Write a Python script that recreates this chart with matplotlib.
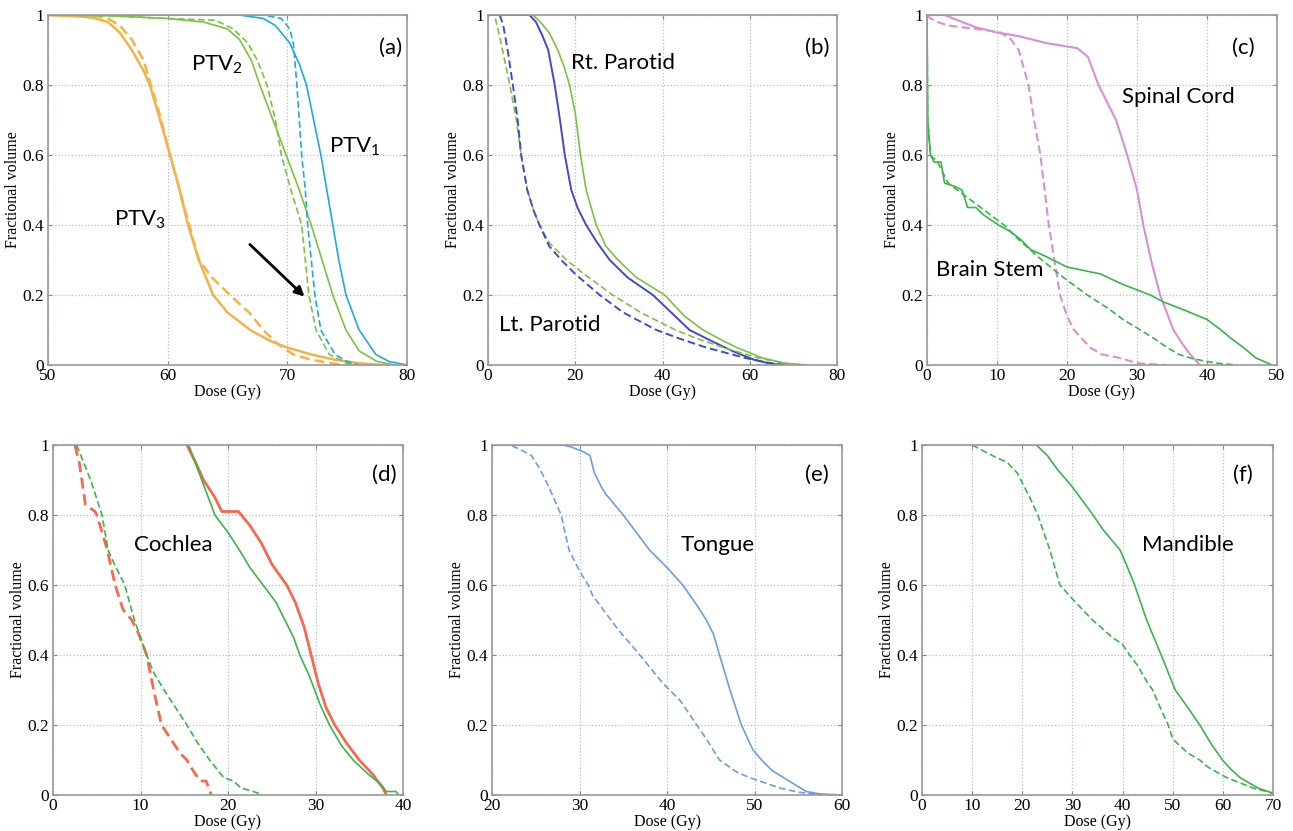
import matplotlib
matplotlib.use('Agg')
import matplotlib.pyplot as plt
from matplotlib.ticker import FuncFormatter

plt.rcParams['font.family'] = ['Liberation Serif', 'DejaVu Serif']
plt.rcParams['mathtext.default'] = 'regular'
LABEL_FONT = ['Lato', 'DejaVu Sans']

# ---- (a) PTVs ----
ptv3_x = [50, 53, 54, 55, 56, 57, 58, 58.5, 59.2, 60.2, 61, 61.7, 62.6, 63.8, 65, 66.9, 68.5, 70, 72, 74, 76, 78]
ptv3_y = [1, 0.995, 0.99, 0.98, 0.95, 0.9, 0.84, 0.8, 0.72, 0.6, 0.5, 0.4, 0.3, 0.2, 0.15, 0.1, 0.07, 0.05, 0.03, 0.015, 0.005, 0]
ptv3d_x = [50, 54, 55, 56, 57, 58, 58.6, 59.3, 60.2, 61, 61.8, 62.6, 63.7, 65.2, 66.8, 68, 69.2, 70.5, 72, 74, 75]
ptv3d_y = [1, 0.998, 0.99, 0.97, 0.93, 0.87, 0.8, 0.72, 0.6, 0.5, 0.4, 0.3, 0.25, 0.2, 0.15, 0.1, 0.06, 0.03, 0.015, 0.003, 0]
ptv2_x = [50, 55, 60, 63, 65, 66, 67, 67.7, 68.8, 69.9, 71, 72, 72.9, 73.8, 74.9, 76, 77.5, 79]
ptv2_y = [1, 0.998, 0.99, 0.98, 0.96, 0.93, 0.87, 0.8, 0.7, 0.6, 0.5, 0.4, 0.3, 0.2, 0.1, 0.04, 0.01, 0]
ptv2d_x = [50, 55, 60, 64, 65.5, 66.7, 67.5, 68.3, 69, 69.5, 70.3, 71.2, 71.5, 71.8, 72.4, 73.5, 75, 76]
ptv2d_y = [1, 0.998, 0.99, 0.985, 0.96, 0.92, 0.87, 0.8, 0.7, 0.6, 0.5, 0.4, 0.3, 0.2, 0.1, 0.03, 0.005, 0]
ptv1_x = [50, 66, 68, 69, 70.2, 71, 71.6, 72.2, 72.8, 73.3, 73.8, 74.3, 74.9, 76, 77.4, 78.5, 80]
ptv1_y = [1, 1, 0.99, 0.97, 0.92, 0.86, 0.8, 0.7, 0.6, 0.5, 0.4, 0.3, 0.2, 0.1, 0.03, 0.01, 0]
ptv1d_x = [50, 68, 69.5, 70.2, 70.5, 70.8, 71.2, 71.5, 71.7, 72.3, 72.8, 74, 75, 76]
ptv1d_y = [1, 1, 0.99, 0.96, 0.92, 0.8, 0.6, 0.5, 0.4, 0.2, 0.1, 0.03, 0.01, 0]

# ---- (b) Parotids ----
rt_x = [0, 10.3, 12, 14, 16, 17.5, 18.7, 20, 21.2, 22.5, 24.8, 27, 29.8, 34, 40.5, 45, 49.3, 53, 57, 63, 68, 73]
rt_y = [1, 1, 0.98, 0.95, 0.9, 0.85, 0.8, 0.72, 0.6, 0.5, 0.4, 0.34, 0.3, 0.25, 0.2, 0.14, 0.1, 0.075, 0.05, 0.02, 0.005, 0]
rtb_x = [0, 9.5, 11, 12.5, 13.8, 15.3, 16.5, 17.6, 18.5, 19.1, 20.5, 22.5, 25, 27.9, 32, 37.8, 42, 46.2, 51, 56, 61, 65, 68]
rtb_y = [1, 1, 0.98, 0.94, 0.9, 0.8, 0.7, 0.6, 0.54, 0.5, 0.45, 0.4, 0.35, 0.3, 0.25, 0.2, 0.15, 0.1, 0.07, 0.04, 0.015, 0.003, 0]
lt_x = [0, 1.5, 3, 5, 6.5, 7.6, 9, 10.5, 11.8, 14, 18, 22, 28.6, 35, 43, 48, 53.9, 62, 68, 72]
lt_y = [1, 1, 0.92, 0.8, 0.7, 0.6, 0.5, 0.44, 0.4, 0.35, 0.3, 0.26, 0.2, 0.15, 0.1, 0.075, 0.05, 0.02, 0.005, 0]
ltb_x = [0, 2.7, 3.5, 4.5, 5.7, 6.8, 7.6, 9, 10.5, 11.8, 14, 16.8, 20, 25.6, 31, 38.6, 44, 50, 59, 64, 68]
ltb_y = [1, 1, 0.97, 0.9, 0.8, 0.7, 0.6, 0.5, 0.44, 0.4, 0.34, 0.3, 0.26, 0.2, 0.15, 0.1, 0.075, 0.05, 0.02, 0.007, 0]

# ---- (c) Spinal cord / brain stem ----
sc_x = [0, 2.5, 5, 7, 10, 13, 17, 20, 21.5, 23, 24.5, 26, 27, 28.6, 30, 30.9, 32, 33.3, 35.2, 36.5, 37.6, 39]
sc_y = [1, 1, 0.98, 0.965, 0.95, 0.94, 0.92, 0.91, 0.905, 0.88, 0.8, 0.74, 0.7, 0.6, 0.5, 0.4, 0.3, 0.2, 0.1, 0.06, 0.03, 0]
scd_x = [0, 0.5, 1.5, 3, 5, 7, 9, 10.5, 12, 13.1, 14.5, 15.3, 16.2, 16.8, 17.4, 18.2, 19, 20, 21, 23.3, 25, 27.6, 30, 34]
scd_y = [1, 0.99, 0.98, 0.97, 0.965, 0.96, 0.955, 0.95, 0.93, 0.9, 0.8, 0.7, 0.6, 0.5, 0.4, 0.3, 0.2, 0.14, 0.1, 0.05, 0.03, 0.02, 0.005, 0]
bs_x = [0, 0.1, 0.5, 1, 2, 2.5, 4, 5, 5.8, 7, 8, 10.2, 12, 13.3, 14.8, 17, 20, 24.8, 28, 31.9, 33.8, 37, 40, 42, 43.5, 45.2, 47, 49.3]
bs_y = [1, 0.7, 0.6, 0.58, 0.58, 0.52, 0.51, 0.5, 0.45, 0.45, 0.43, 0.4, 0.38, 0.36, 0.33, 0.31, 0.28, 0.26, 0.23, 0.2, 0.18, 0.155, 0.13, 0.1, 0.075, 0.05, 0.02, 0]
bsd_x = [0, 0.1, 0.5, 1.5, 2, 3, 5, 7, 9, 11, 13, 16.4, 19.5, 22.9, 26, 28, 30.5, 32.5, 34.3, 36, 38, 40, 42, 44.3]
bsd_y = [1, 0.7, 0.6, 0.58, 0.56, 0.52, 0.49, 0.46, 0.43, 0.4, 0.36, 0.3, 0.25, 0.2, 0.16, 0.13, 0.1, 0.075, 0.05, 0.03, 0.018, 0.01, 0.004, 0]

# ---- (d) Cochlea ----
coch_r_x = [15.3, 16.3, 17.2, 18.5, 19.3, 21.2, 22.5, 23.8, 25, 26.7, 27.7, 28.7, 29.5, 30.3, 31.2, 32.2, 33.5, 35, 36.5, 37.7, 38.1]
coch_r_y = [1, 0.95, 0.9, 0.85, 0.81, 0.81, 0.77, 0.72, 0.66, 0.6, 0.55, 0.48, 0.4, 0.32, 0.25, 0.2, 0.15, 0.1, 0.06, 0.02, 0]
coch_g_x = [15.5, 17, 18.5, 20, 21.3, 22.5, 24, 25.5, 26.5, 27.5, 28.2, 29.3, 30.5, 31.6, 33, 34.3, 36, 37.5, 38.1, 39.2, 39.5]
coch_g_y = [1, 0.9, 0.8, 0.75, 0.7, 0.65, 0.6, 0.55, 0.5, 0.45, 0.4, 0.34, 0.26, 0.2, 0.14, 0.1, 0.06, 0.03, 0.01, 0.01, 0]
coch_rd_x = [2.5, 3.0, 3.3, 3.7, 4.8, 5.0, 5.5, 6.2, 7.1, 8, 9, 9.8, 10.7, 11.5, 12.4, 13.2, 14.5, 15.3, 16, 16.8, 17.5, 18.1]
coch_rd_y = [1, 0.95, 0.9, 0.83, 0.81, 0.8, 0.76, 0.7, 0.6, 0.53, 0.5, 0.46, 0.4, 0.3, 0.2, 0.17, 0.12, 0.1, 0.07, 0.04, 0.04, 0]
coch_gd_x = [2.7, 3.5, 4.3, 5.6, 6.3, 7, 8.2, 9.3, 10.7, 11.5, 12.7, 14, 15.3, 16.5, 17.9, 19.5, 20.6, 21.5, 22.9, 24]
coch_gd_y = [1, 0.95, 0.9, 0.8, 0.7, 0.66, 0.6, 0.5, 0.4, 0.35, 0.3, 0.25, 0.2, 0.15, 0.1, 0.05, 0.04, 0.02, 0.01, 0]

# ---- (e) Tongue ----
tng_x = [20, 28, 29, 30.5, 31.2, 31.7, 32.5, 33, 35, 38, 40, 41.8, 43.2, 44.5, 45.3, 46, 47.2, 48.5, 49.8, 50.8, 52, 53.3, 55.9, 57.5, 60]
tng_y = [1, 1, 0.995, 0.98, 0.97, 0.92, 0.88, 0.86, 0.8, 0.7, 0.65, 0.6, 0.55, 0.5, 0.46, 0.4, 0.3, 0.2, 0.13, 0.1, 0.07, 0.05, 0.01, 0.003, 0]
tngd_x = [20, 22, 23, 24.5, 25.5, 26.5, 27.9, 28.8, 30, 31, 31.5, 33, 34.5, 36.9, 39.5, 41.5, 43.4, 44.5, 46, 48, 49.4, 52.9, 55, 58]
tngd_y = [1, 1, 0.99, 0.97, 0.93, 0.88, 0.8, 0.7, 0.64, 0.6, 0.57, 0.52, 0.47, 0.4, 0.32, 0.27, 0.2, 0.16, 0.1, 0.065, 0.05, 0.02, 0.008, 0]

# ---- (f) Mandible ----
man_x = [18, 22.8, 25, 27, 30, 34.1, 36, 39.5, 41, 42.4, 44.8, 47.7, 50.5, 53, 55.4, 57.5, 59.9, 61.5, 63.4, 67, 70]
man_y = [1, 1, 0.97, 0.93, 0.88, 0.8, 0.76, 0.7, 0.65, 0.6, 0.5, 0.4, 0.3, 0.25, 0.2, 0.15, 0.1, 0.075, 0.05, 0.02, 0.005]
mand_x = [10, 14, 17, 19, 21.5, 23.1, 25.5, 27.5, 30, 34, 38, 40, 41.4, 43, 45, 46, 47.5, 49.1, 50, 53, 55.4, 57, 60.7, 66, 70]
mand_y = [1, 0.97, 0.95, 0.92, 0.85, 0.8, 0.7, 0.6, 0.56, 0.5, 0.45, 0.43, 0.4, 0.37, 0.32, 0.3, 0.25, 0.2, 0.16, 0.12, 0.1, 0.08, 0.05, 0.02, 0.005]

ORANGE = '#f4b349'
LGREEN = '#7cc242'
CYAN = '#22a8de'
PBLUE = '#4648c6'
PINK = '#d88fd6'
GREEN = '#3ab54a'
RED = '#f26a4f'
LBLUE = '#6c9fe0'
DASH = (0, (4, 2))

W, H = 1293, 831


def make_axes(fig, left, bottom, width, height, xlim, xstep):
    ax = fig.add_axes([left / W, 1 - bottom / H, width / W, height / H])
    ax.set_xlim(*xlim)
    ax.set_ylim(0, 1)
    ax.set_xticks(range(xlim[0], xlim[1] + 1, xstep))
    ax.set_yticks([0, 0.2, 0.4, 0.6, 0.8, 1])
    ax.yaxis.set_major_formatter(FuncFormatter(lambda v, p: '{:g}'.format(round(v, 2))))
    ax.tick_params(direction='in', length=3, color='#888888', top=True, right=True,
                   labelsize=12.5, pad=2)
    ax.tick_params(axis='y', pad=3)
    for s in ax.spines.values():
        s.set_color('#999999')
        s.set_linewidth(1.2)
    ax.xaxis.grid(True, linestyle=':', color='#a9c3d6', linewidth=0.9)
    ax.yaxis.grid(True, linestyle=':', color='#bbbbbb', linewidth=0.9)
    ax.set_xlabel('Dose (Gy)', fontsize=11.5, labelpad=0)
    ax.set_ylabel('Fractional volume', fontsize=11.5, labelpad=1)
    return ax


def label(ax, x, y, s, size=16):
    ax.text(x, y, s, fontsize=size, family=LABEL_FONT, ha='center', va='center')


fig = plt.figure(figsize=(W / 100, H / 100), dpi=100)

# (a)
ax = make_axes(fig, 48, 365, 359, 350, (50, 80), 10)
ax.plot(ptv3_x, ptv3_y, color=ORANGE, lw=1.8)
ax.plot(ptv3d_x, ptv3d_y, color=ORANGE, lw=1.8, linestyle=DASH)
ax.plot(ptv2_x, ptv2_y, color=LGREEN, lw=1.2)
ax.plot(ptv2d_x, ptv2d_y, color=LGREEN, lw=1.2, linestyle=DASH)
ax.plot(ptv1_x, ptv1_y, color=CYAN, lw=1.2)
ax.plot(ptv1d_x, ptv1d_y, color=CYAN, lw=1.2, linestyle=DASH)
ax.annotate('', xy=(71.6, 0.19), xytext=(66.7, 0.35),
            arrowprops=dict(arrowstyle='-|>', color='black', lw=2, mutation_scale=14))
label(ax, 64.1, 0.857, 'PTV$_2$')
label(ax, 75.6, 0.623, 'PTV$_1$')
label(ax, 57.7, 0.414, 'PTV$_3$')
label(ax, 78.6, 0.905, '(a)')

# (b)
ax = make_axes(fig, 488, 365, 349, 350, (0, 80), 20)
ax.plot(rt_x, rt_y, color=LGREEN, lw=1.2)
ax.plot(rtb_x, rtb_y, color=PBLUE, lw=1.4)
ax.plot(lt_x, lt_y, color=LGREEN, lw=1.2, linestyle=DASH)
ax.plot(ltb_x, ltb_y, color=PBLUE, lw=1.4, linestyle=DASH)
label(ax, 30.9, 0.863, 'Rt. Parotid')
label(ax, 14.2, 0.114, 'Lt. Parotid')
label(ax, 75.4, 0.906, '(b)')

# (c)
ax = make_axes(fig, 927, 365, 350, 350, (0, 50), 10)
ax.plot(sc_x, sc_y, color=PINK, lw=1.5)
ax.plot(scd_x, scd_y, color=PINK, lw=1.5, linestyle=DASH)
ax.plot(bs_x, bs_y, color=GREEN, lw=1.2)
ax.plot(bsd_x, bsd_y, color=GREEN, lw=1.2, linestyle=DASH)
label(ax, 35.9, 0.766, 'Spinal Cord')
label(ax, 9.0, 0.271, 'Brain Stem')
label(ax, 45.2, 0.906, '(c)')

# (d)
ax = make_axes(fig, 53, 795, 350, 350, (0, 40), 10)
ax.plot(coch_r_x, coch_r_y, color=RED, lw=2.0)
ax.plot(coch_g_x, coch_g_y, color=GREEN, lw=1.2)
ax.plot(coch_rd_x, coch_rd_y, color=RED, lw=2.0, linestyle=DASH)
ax.plot(coch_gd_x, coch_gd_y, color=GREEN, lw=1.2, linestyle=DASH)
label(ax, 13.7, 0.714, 'Cochlea')
label(ax, 37.9, 0.914, '(d)')

# (e)
ax = make_axes(fig, 492, 795, 350, 350, (20, 60), 10)
ax.plot(tng_x, tng_y, color=LBLUE, lw=1.2)
ax.plot(tngd_x, tngd_y, color=LBLUE, lw=1.2, linestyle=DASH)
label(ax, 45.8, 0.714, 'Tongue')
label(ax, 57.1, 0.914, '(e)')

# (f)
ax = make_axes(fig, 922, 795, 351, 350, (0, 70), 10)
ax.plot(man_x, man_y, color=GREEN, lw=1.2)
ax.plot(mand_x, mand_y, color=GREEN, lw=1.2, linestyle=DASH)
label(ax, 53.0, 0.714, 'Mandible')
label(ax, 64.0, 0.914, '(f)')

fig.savefig('out.png', dpi=100)
